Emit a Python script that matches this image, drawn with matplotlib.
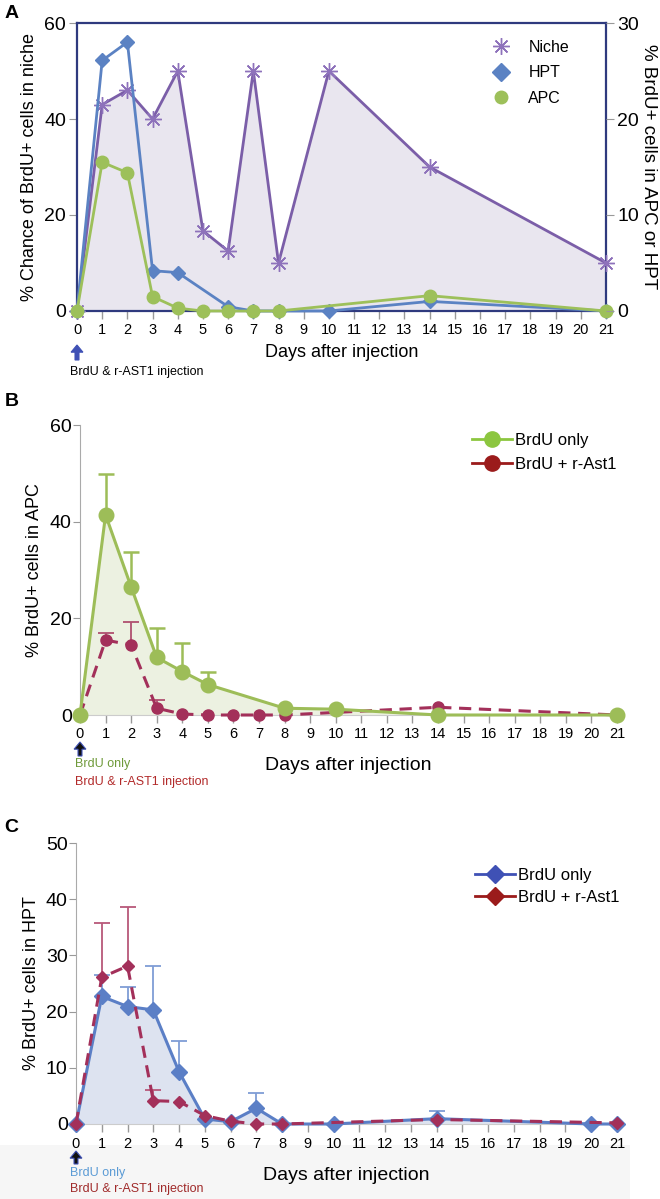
import numpy as np
import matplotlib
matplotlib.use('Agg')
import matplotlib.pyplot as plt
from matplotlib.lines import Line2D
from matplotlib.patches import Rectangle

# ---- panel A: niche / HPT / APC
days_niche = [0, 1, 2, 3, 4, 5, 6, 7, 8, 10, 14, 21]
niche = [0, 43, 46, 40, 50, 16.7, 12.5, 50, 10, 50, 30, 10]
days_hpt_a = [0, 1, 2, 3, 4, 6, 7, 8, 10, 14, 21]
hpt_a = [0, 26.1, 28.0, 4.2, 4.0, 0.45, 0, 0, 0, 1.0, 0]
days_apc_a = [0, 1, 2, 3, 4, 5, 6, 7, 8, 14, 21]
apc_a = [0, 15.5, 14.4, 1.5, 0.3, 0, 0, 0, 0, 1.6, 0]

# ---- panel B: APC
days_b_only = [0, 1, 2, 3, 4, 5, 8, 10, 14, 21]
apc_only = [0, 41.4, 26.5, 11.9, 9.0, 6.3, 1.4, 1.2, 0, 0]
apc_only_err = [0, 8.4, 7.3, 6.0, 6.0, 2.6, 0, 0, 0, 0]
days_b_ast = [0, 1, 2, 3, 4, 5, 6, 7, 8, 14, 21]
apc_ast = [0, 15.5, 14.5, 1.4, 0.2, 0, 0, 0, 0, 1.6, 0]
apc_ast_err = [0, 1.4, 4.7, 1.8, 0, 0, 0, 0, 0, 0, 0]

# ---- panel C: HPT
days_c_only = [0, 1, 2, 3, 4, 5, 6, 7, 8, 10, 14, 20, 21]
hpt_only = [0, 22.7, 20.9, 20.3, 9.3, 0.9, 0.4, 2.8, 0, 0, 0.95, 0, 0]
hpt_only_err = [0, 3.9, 3.5, 7.8, 5.4, 0, 0, 2.7, 0, 0, 1.45, 0, 0]
days_c_ast = [0, 1, 2, 3, 4, 5, 6, 7, 8, 14, 21]
hpt_ast = [0, 26.1, 28.1, 4.15, 4.0, 1.5, 0.5, 0, 0, 0.8, 0.2]
hpt_ast_err = [0, 9.7, 10.5, 1.95, 0, 0, 0, 0, 0, 0, 0]

day_ticks = list(range(22))

W, H = 660, 1199
plt.rcParams['font.family'] = ['Liberation Sans', 'DejaVu Sans']

def fx(px):
    return px / W

def fy(py):
    return 1 - py / H

def box(x0, x21, ytop, ybot):
    return [fx(x0), fy(ybot), fx(x21) - fx(x0), (ybot - ytop) / H]

def errbars(ax, x, y, e, color, lw=1.3):
    x = np.array(x); y = np.array(y); e = np.array(e)
    m = e > 0
    ax.vlines(x[m], y[m], y[m] + e[m], color=color, lw=lw, zorder=2, clip_on=False)
    ax.plot(x[m], y[m] + e[m], ls='none', marker='_', ms=12, mew=lw, color=color,
            zorder=2, clip_on=False)

def style_xaxis(ax, fs=10.5):
    ax.set_xlim(0, 21)
    ax.set_xticks(day_ticks)
    ax.set_xticklabels([str(d) for d in day_ticks], fontsize=fs)
    ax.tick_params(axis='x', length=6, color='#999999', width=1, pad=3)

def arrow(x, y0, y1, fc, ec):
    fig.patches.append(matplotlib.patches.FancyArrow(
        fx(x), fy(y0), 0, fy(y1) - fy(y0), width=0.006, head_width=0.018,
        head_length=0.006, length_includes_head=True, transform=fig.transFigure,
        fc=fc, ec=ec, lw=0.8))

fig = plt.figure(figsize=(W / 100, H / 100), dpi=100)

# faint band under panel C
fig.patches.append(Rectangle((0, 0), fx(630), fy(1145), transform=fig.transFigure,
                             fc='#f6f6f6', ec='none', zorder=-5))

# ================= A =================
axA = fig.add_axes(box(77, 606, 23, 311))
navy = '#2f3a7e'
purple = '#7b5ea8'
blue = '#5b82c3'
green = '#9dc05a'
axA.fill_between(days_niche, 0, niche, color='#e9e6ef', lw=0, zorder=1)
axA.plot(days_niche, niche, color=purple, lw=2, marker=(8, 2, 0), ms=12, mew=1,
         mec='#8e72bb', zorder=3, clip_on=False)
axA.plot(days_hpt_a, np.array(hpt_a) * 2, color=blue, lw=2, marker='D', ms=7,
         zorder=4, clip_on=False)
axA.plot(days_apc_a, np.array(apc_a) * 2, color=green, lw=2, marker='o', ms=9,
         zorder=5, clip_on=False)
axA.set_ylim(0, 60)
axA.set_yticks([0, 20, 40, 60])
axA.set_yticklabels(['0', '20', '40', '60'], fontsize=14)
style_xaxis(axA)
for s in axA.spines.values():
    s.set_color(navy)
    s.set_linewidth(1.6)
axA.tick_params(axis='y', length=6, color='#999999', pad=2)
axA.set_ylabel('% Chance of BrdU+ cells in niche', fontsize=13, labelpad=4)
axA2 = axA.twinx()
axA2.set_ylim(0, 30)
axA2.set_yticks([0, 10, 20, 30])
axA2.set_yticklabels(['0', '10', '20', '30'], fontsize=14)
axA2.tick_params(axis='y', length=6, color='#999999', pad=2)
for s in axA2.spines.values():
    s.set_visible(False)
axA2.set_ylabel('% BrdU+ cells in APC or HPT', fontsize=13.5, rotation=-90, labelpad=13)
axA.set_xlabel('Days after injection', fontsize=13, labelpad=5)
hA = [Line2D([], [], ls='none', marker=(8, 2, 0), ms=12, mew=1, color='#8e72bb'),
      Line2D([], [], ls='none', marker='D', ms=9, color=blue),
      Line2D([], [], ls='none', marker='o', ms=9, color=green)]
axA.legend(hA, ['Niche', 'HPT', 'APC'], loc='upper left', frameon=False,
           bbox_to_anchor=(fx(490), fy(40)), bbox_transform=fig.transFigure,
           borderaxespad=0, borderpad=0, handlelength=1.4, handletextpad=1.0,
           labelspacing=0.65, prop={'size': 11.5})
arrow(77, 360, 345, '#3f51b5', '#3f51b5')
fig.text(fx(70), fy(372), 'BrdU & r-AST1 injection', fontsize=9, va='center')
fig.text(fx(5), fy(13), 'A', fontsize=14, fontweight='bold', va='center')

# ================= B =================
axB = fig.add_axes(box(80, 617, 425, 715))
g2 = '#9dbd58'
red = '#a3305a'
axB.fill_between(days_b_only, 0, apc_only, color='#ecf1e1', lw=0, zorder=1)
errbars(axB, days_b_only, apc_only, apc_only_err, g2, lw=1.8)
errbars(axB, days_b_ast, apc_ast, apc_ast_err, '#b0506f', lw=1.3)
axB.plot(days_b_ast, apc_ast, color=red, lw=2.2, ls=(0, (4, 2.5)), marker='o', ms=8,
         zorder=3, clip_on=False)
axB.plot(days_b_only, apc_only, color=g2, lw=2.2, marker='o', ms=10.5, zorder=4,
         clip_on=False)
axB.set_ylim(0, 60)
axB.set_yticks([0, 20, 40, 60])
axB.set_yticklabels(['0', '20', '40', '60'], fontsize=14)
axB.tick_params(axis='y', length=5, color='#999999', pad=1)
style_xaxis(axB)
for k in ['top', 'right']:
    axB.spines[k].set_visible(False)
axB.spines['left'].set_color('#aaaaaa')
axB.spines['bottom'].set_color('#cccccc')
axB.set_ylabel('% BrdU+ cells in APC', fontsize=13, labelpad=5)
axB.set_xlabel('Days after injection', fontsize=14, labelpad=11)
hB = [Line2D([], [], color='#8cc63f', lw=2, marker='o', ms=11),
      Line2D([], [], color='#9b1b1b', lw=2, marker='o', ms=11)]
axB.legend(hB, ['BrdU only', 'BrdU + r-Ast1'], loc='upper left', frameon=False,
           bbox_to_anchor=(fx(472), fy(433)), bbox_transform=fig.transFigure,
           borderaxespad=0, borderpad=0, handlelength=2.4, handletextpad=0.2,
           labelspacing=0.55, prop={'size': 12})
arrow(80, 756, 742, '#111111', '#3f51b5')
fig.text(fx(75), fy(764), 'BrdU only', fontsize=9, color='#6f9a3a', va='center')
fig.text(fx(75), fy(782), 'BrdU & r-AST1 injection', fontsize=9, color='#b22a2a',
         va='center')
fig.text(fx(5), fy(402), 'B', fontsize=14, fontweight='bold', va='center')

# ================= C =================
axC = fig.add_axes(box(76, 617, 843, 1124))
b2 = '#5b7fc6'
axC.fill_between(days_c_only, 0, hpt_only, color='#dde3f0', lw=0, zorder=1)
errbars(axC, days_c_ast, hpt_ast, hpt_ast_err, '#b8587a', lw=1.3)
errbars(axC, days_c_only, hpt_only, hpt_only_err, '#7f9dd6', lw=1.3)
axC.plot(days_c_only, hpt_only, color=b2, lw=2.2, marker='D', ms=8.5, zorder=3,
         clip_on=False)
axC.plot(days_c_ast, hpt_ast, color=red, lw=2.2, ls=(0, (4, 2.5)), marker='D', ms=6.5,
         zorder=4, clip_on=False)
axC.set_ylim(0, 50)
axC.set_yticks([0, 10, 20, 30, 40, 50])
axC.set_yticklabels(['0', '10', '20', '30', '40', '50'], fontsize=14)
axC.tick_params(axis='y', length=5, color='#999999', pad=1)
style_xaxis(axC)
for k in ['top', 'right']:
    axC.spines[k].set_visible(False)
axC.spines['left'].set_color('#aaaaaa')
axC.spines['bottom'].set_color('#cccccc')
axC.set_ylabel('% BrdU+ cells in HPT', fontsize=13, labelpad=4)
axC.set_xlabel('Days after injection', fontsize=14, labelpad=12)
hC = [Line2D([], [], color='#3f51b5', lw=2, marker='D', ms=9),
      Line2D([], [], color='#9b1b1b', lw=2, marker='D', ms=9)]
axC.legend(hC, ['BrdU only', 'BrdU + r-Ast1'], loc='upper left', frameon=False,
           bbox_to_anchor=(fx(475), fy(868)), bbox_transform=fig.transFigure,
           borderaxespad=0, borderpad=0, handlelength=2.4, handletextpad=0.2,
           labelspacing=0.4, prop={'size': 12})
arrow(76, 1164, 1151, '#111111', '#3f51b5')
fig.text(fx(70), fy(1173), 'BrdU only', fontsize=9, color='#5b9bd5', va='center')
fig.text(fx(70), fy(1189), 'BrdU & r-AST1 injection', fontsize=9, color='#a02a2a',
         va='center')
fig.text(fx(4), fy(828), 'C', fontsize=14, fontweight='bold', va='center')

fig.savefig('out.png', dpi=100)
